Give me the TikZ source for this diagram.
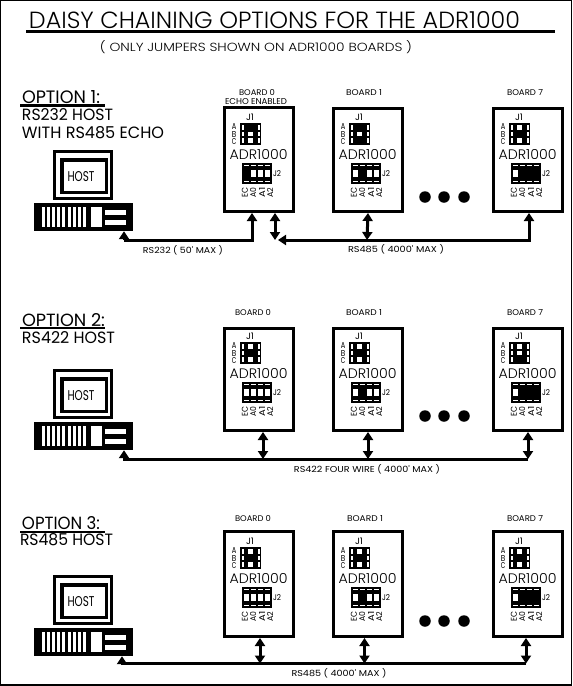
\documentclass[tikz,border=0pt]{standalone}
\usepackage{graphicx}
\usepackage{fontspec}
\setmainfont{Poppins}[UprightFont=* Light]
\newfontfamily\rg{Poppins}
\usetikzlibrary{arrows.meta}
\newcommand\tx[3]{\resizebox{#1pt}{#2pt}{#3}}
\newcommand\tr[3]{\resizebox{#1pt}{#2pt}{\rg #3}}
\tikzset{
  txt/.style={inner sep=0pt,outer sep=0pt,text=black},
  boardbox/.style={draw=black,fill=white,line width=3pt,inner sep=0pt},
  bus/.style={draw=black,line width=3pt},
  hd/.style={-{Triangle[length=8pt,width=10pt]},shorten >=0pt},
  dbl/.style={{Triangle[length=8pt,width=10pt]}-{Triangle[length=8pt,width=10pt]}},
  dot/.style={circle,fill=black,inner sep=0pt,minimum size=11.5pt},
  mon/.style={draw=black,fill=white,inner sep=0pt},
  rule/.style={draw=black,line width=#1}
}
% name, left, box top, box bottom, content origin, J1 white rows, J2 white cells, label text, label centre x offset
\newcommand\bd[9]{%
  \node[boardbox,minimum width=69pt,minimum height=(#4-#3-3)*1pt] (#1) at ({#2+36},{(#3+#4)/2}) {};
  \begin{scope}[shift={(#2,#5)}]
    \node[txt] (#1-j1t) at (27,11.5) {\tr{8}{6.5}{J1}};
    \node[txt] (#1-a) at (11,20.5) {\tr{4.5}{6}{A}};
    \node[txt] (#1-b) at (11,28) {\tr{4.5}{6}{B}};
    \node[txt] (#1-c) at (11,36) {\tr{4.5}{6}{C}};
    \fill[black] (17,17) rectangle (38,39);
    \foreach \r in {0,1,2}{
      \fill[white] (18.5,{19+6.7*\r}) rectangle (20.5,{23.5+6.7*\r});
      \fill[white] (34.5,{19+6.7*\r}) rectangle (36.5,{23.5+6.7*\r});
    }
    \foreach \r in {#6}{
      \fill[white] (25,{19+6.7*(\r-1)}) rectangle (30,{23.5+6.7*(\r-1)});
    }
    \node[txt] (#1-adr) at (35.6,49) {\tx{58}{10}{ADR1000}};
    \fill[black] (19,57) rectangle (49,78);
    \foreach \r in {0,1,2,3}{
      \fill[white] ({20.5+7*\r},59) rectangle ({25.5+7*\r},60);
      \fill[white] ({20.5+7*\r},74.5) rectangle ({25.5+7*\r},75.5);
    }
    \foreach \r in {#7}{
      \fill[white] ({20.5+7*(\r-1)},64) rectangle ({25.5+7*(\r-1)},71);
    }
    \node[txt] (#1-j2t) at (54,68) {\tr{8}{6}{J2}};
    \node[txt,rotate=90] (#1-ec) at (22,86.5) {\tr{10}{6}{EC}};
    \node[txt,rotate=90] (#1-a0) at (30,86.5) {\tr{10}{6}{A0}};
    \node[txt,rotate=90] (#1-a1) at (39,86.5) {\tr{10}{6}{A1}};
    \node[txt,rotate=90] (#1-a2) at (47,86.5) {\tr{10}{6}{A2}};
  \end{scope}
  \node[txt] (#1-lab) at ({#2+#9},\laby) {\tr{36}{6}{#8}};
}
% name, vertical offset
\newcommand\host[2]{%
  \begin{scope}[shift={(0,#2)}]
    \node[mon,line width=3pt,minimum width=57pt,minimum height=47pt] (#1-mon) at (83,175) {};
    \node[mon,line width=3.5pt,minimum width=44.5pt,minimum height=32.5pt] (#1-scr) at (84,176) {};
    \node[txt] (#1-txt) at (81,177) {\tr{27}{10}{HOST}};
    \node[fill=black,inner sep=0pt,minimum width=99pt,minimum height=28pt] (#1) at (83.5,217) {};
    \foreach \r in {0,...,8}{
      \fill[white] ({42+5.1*\r},207) rectangle ({45+5.1*\r},227);
    }
    \fill[white] (91,207) rectangle (102,227);
    \fill[white] (105,210) rectangle (126,215);
    \fill[white] (105,220) rectangle (126,225);
  \end{scope}
}
\begin{document}
\begin{tikzpicture}[x=1pt,y=-1pt]
\useasboundingbox (0,0) rectangle (573,686);
\fill[white] (0,0) rectangle (573,686);
\draw[black,line width=1.2pt] (0.6,0.6) rectangle (571.6,684.9);

% title
\node[txt,anchor=west] (title) at (29,20) {\tx{491}{17}{DAISY CHAINING OPTIONS FOR THE ADR1000}};
\draw[rule=3pt] (26,31.5) -- (555,31.5);
\node[txt] (sub) at (256,47) {\tx{312}{11}{( ONLY JUMPERS SHOWN ON ADR1000 BOARDS )}};

% option headings
\node[txt,anchor=west] (o1) at (22,97) {\tr{78}{13}{OPTION 1:}};
\draw[rule=2.2pt] (20,105.5) -- (105,105.5);
\node[txt,anchor=west] (o1a) at (22,115) {\tr{91}{12}{RS232 HOST}};
\node[txt,anchor=west] (o1b) at (22,133) {\tr{142}{12}{WITH RS485 ECHO}};
\node[txt,anchor=west] (o2) at (22,320) {\tr{83}{13}{OPTION 2:}};
\draw[rule=2.2pt] (20,328) -- (105,328);
\node[txt,anchor=west] (o2a) at (22,337.5) {\tr{93}{12}{RS422 HOST}};
\node[txt,anchor=west] (o3) at (22,523) {\tr{78}{13}{OPTION 3:}};
\draw[rule=2.2pt] (20,532) -- (105,532);
\node[txt,anchor=west] (o3a) at (20,540) {\tr{93}{12}{RS485 HOST}};

% hosts
\host{h1}{0}
\host{h2}{219}
\host{h3}{425}

% boards: option 1
\def\laby{93}
\bd{a0}{223}{106}{213}{106}{2,3}{2,3,4}{BOARD 0}{34}
\bd{a1}{332}{107}{213}{106}{2}{1,3,4}{BOARD 1}{32}
\bd{a7}{492}{107}{213}{106}{1,3}{1}{BOARD 7}{33}
\node[txt] (a0-echo) at (256,101.5) {\tr{62}{6}{ECHO ENABLED}};

% boards: option 2
\def\laby{313}
\bd{b0}{223}{327}{432}{325}{1,3}{1,2,3,4}{BOARD 0}{30}
\bd{b1}{332}{327}{432}{325}{1,3}{1,3,4}{BOARD 1}{32}
\bd{b7}{492}{327}{432}{325}{1,2}{1}{BOARD 7}{33}

% boards: option 3
\def\laby{518.5}
\bd{c0}{223}{530}{638}{530}{1,3}{1,2,3,4}{BOARD 0}{30}
\bd{c1}{332}{530}{638}{530}{1,3}{1,3,4}{BOARD 1}{33}
\bd{c7}{492}{530}{638}{530}{1,3}{1}{BOARD 7}{33}

% ellipsis dots
\foreach \n/\y in {d1/197,d2/416,d3/621}{
  \node[dot] (\n a) at (425,\y) {};
  \node[dot] (\n b) at (444,\y) {};
  \node[dot] (\n c) at (464,\y) {};
}

% connectors: option 1
\coordinate (p1) at ([xshift=40.5pt]h1.south);
\coordinate (j1) at (275,240);
\coordinate (n1) at (252,240);
\coordinate (k1) at (367,240);
\coordinate (m1) at (529,240);
\draw[bus,hd] (p1 |- n1) -- (n1) -- (n1 |- a0.south);
\draw[bus,hd] (p1 |- n1) -- (p1);
\draw[bus,dbl] (j1 |- a0.south) -- (j1);
\draw[bus,hd] (m1) -- ([xshift=3pt]j1);
\draw[bus,dbl] (a1.south) -- (k1);
\draw[bus,hd] (k1) -- (m1) -- (m1 |- a7.south);
\node[txt] (l1) at (183,250.5) {\tr{80}{8}{RS232 ( 50' MAX )}};
\node[txt] (l2) at (396,249.5) {\tr{96}{8}{RS485 ( 4000' MAX )}};

% connectors: option 2
\coordinate (p2) at ([xshift=40.5pt]h2.south);
\coordinate (m2) at (528,459);
\draw[bus,hd] (m2) -- (p2 |- m2) -- (p2);
\draw[bus,dbl] ([xshift=4pt]b0.south) -- ([xshift=4pt]b0.south |- m2);
\draw[bus,dbl] (b1.south) -- (b1.south |- m2);
\draw[bus,dbl] (m2 |- b7.south) -- (m2);
\node[txt] (l3) at (367,469) {\tr{146}{8}{RS422 FOUR WIRE ( 4000' MAX )}};

% connectors: option 3
\coordinate (p3) at ([xshift=38.5pt]h3.south);
\coordinate (m3) at (526,663.5);
\draw[bus,hd] (m3) -- (p3 |- m3) -- (p3);
\draw[bus,dbl] ([xshift=1pt]c0.south) -- ([xshift=1pt]c0.south |- m3);
\draw[bus,dbl] ([xshift=-3.5pt]c1.south) -- ([xshift=-3.5pt]c1.south |- m3);
\draw[bus,dbl] (m3 |- c7.south) -- (m3);
\node[txt] (l4) at (339,673) {\tr{95}{8}{RS485 ( 4000' MAX )}};
\end{tikzpicture}
\end{document}
